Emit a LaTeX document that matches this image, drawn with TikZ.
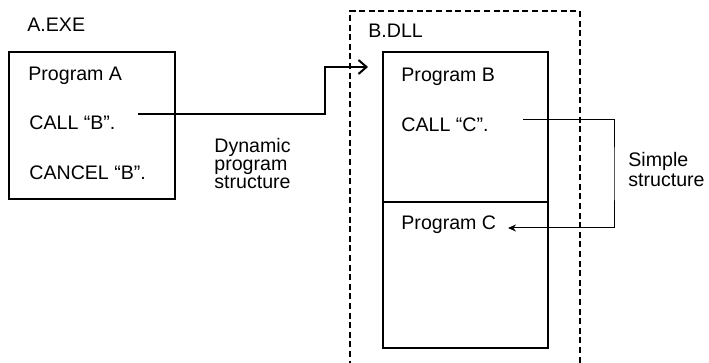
\documentclass[tikz,border=0pt]{standalone}
\usepackage{fontspec}
\setmainfont{Liberation Sans}
\usetikzlibrary{arrows.meta, positioning}

\begin{document}
\begin{tikzpicture}[
    x=0.5pt, y=-0.5pt,
    every node/.style={font=\fontsize{9.8}{10}\selectfont, inner sep=0pt},
    lbl/.style={anchor=base west},
    multi/.style={anchor=north west, align=left},
    abox/.style={draw, line width=0.7pt, anchor=north west, outer sep=0pt,
                 minimum width=83pt, minimum height=73.5pt},
    pbox/.style={draw, line width=1.2pt, anchor=north west, outer sep=0pt,
                 minimum width=82.5pt, minimum height=75pt},
    dllframe/.style={draw, line width=0.6pt, dash pattern=on 3pt off 1.8pt,
                     anchor=north west, outer sep=0pt,
                     minimum width=115pt, minimum height=200pt},
    callarrow/.style={-{Straight Barb[length=4pt,width=7pt]}, line width=1pt},
    simplearrow/.style={-{Stealth[length=4pt,width=3.5pt]}, line width=0.5pt}]

\useasboundingbox (0,0) rectangle (709,363);

\node[dllframe] (dll) at (350,11) {};
\node[lbl] (dllLbl) at (368,38) {B.DLL};

\node[lbl] (exeLbl) at (27,32) {A.EXE};
\node[abox] (boxA) at (9,52) {};
\node[lbl] (progA) at (28,81) {Program A};
\node[lbl] (callB) at (29,130) {CALL “B”.};
\node[lbl] (cancelB) at (29,180) {CANCEL “B”.};

\node[pbox] (boxB) at (383,52) {};
\node[pbox, minimum height=73pt] (boxC) at (boxB.south west) {};
\node[lbl] (progB) at (401,82) {Program B};
\node[lbl] (callC) at (401,132) {CALL “C”.};
\node[lbl] (progC) at (401,230) {Program C};

\node[multi, font=\fontsize{9.8}{9}\selectfont] (dynLbl) at (214,138) {Dynamic\\program\\structure};
\node[multi] (simpleLbl) at (628,152) {Simple\\structure};

\coordinate (bOut) at (138,114);
\coordinate (bend) at (325,67);
\coordinate (bIn) at (368,67);
\coordinate (cOut) at (523,120);
\coordinate (turn) at (614,174);
\coordinate (cIn) at (508,228);

\draw[callarrow] (bOut) -| (bend) -- (bIn);
\draw[simplearrow] (cOut) -| (turn) |- (cIn);
\end{tikzpicture}
\end{document}
